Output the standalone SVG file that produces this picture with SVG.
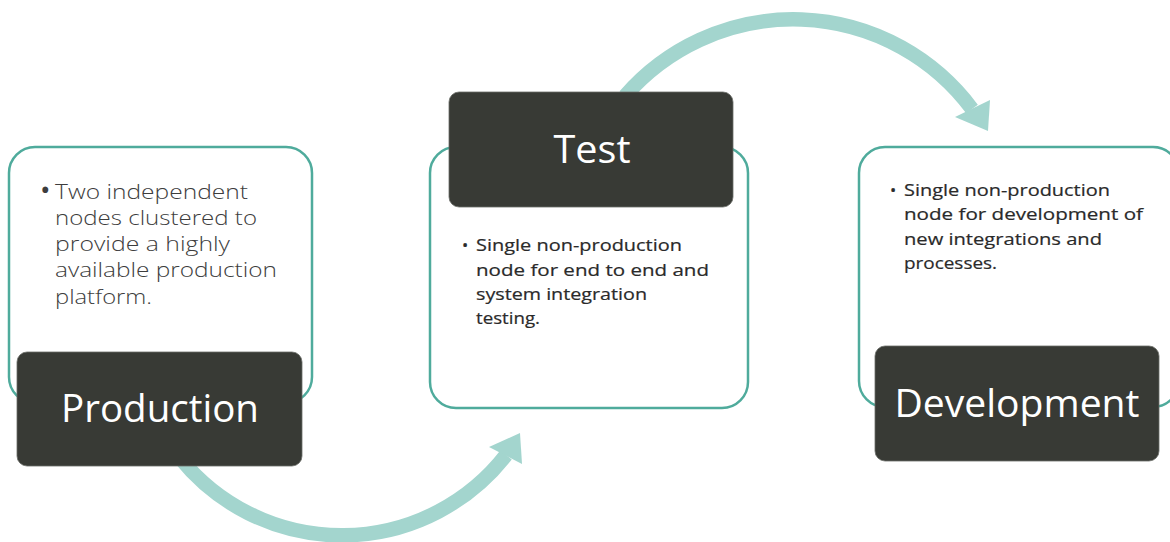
<svg xmlns="http://www.w3.org/2000/svg" width="1170" height="542" viewBox="0 0 1170 542">
<style>
.outline{fill:#ffffff;stroke:#4FAB9C;stroke-width:2.5}
.head{fill:#383A35;stroke:#6b6d68;stroke-width:0.8}
.htxt{font-family:"Open Sans","Liberation Sans",sans-serif;font-size:38px;fill:#ffffff;text-anchor:middle}
.ptxt{font-family:"Open Sans","Liberation Sans",sans-serif;font-weight:300;font-size:21px;fill:#3d3d3d}
.pbul{font-family:"Open Sans","Liberation Sans",sans-serif;font-size:28px;fill:#3d3d3d}
.btxt{font-family:"Open Sans","Liberation Sans",sans-serif;font-size:16.5px;fill:#2a2a2a;stroke:#2a2a2a;stroke-width:0.2}
.arc{fill:none;stroke:#A3D5CE;stroke-width:14.5}
.tip{fill:#A3D5CE}
</style>
<rect width="1170" height="542" fill="#ffffff"/>
<g id="outlines">
<rect class="outline" x="9" y="147" width="303" height="256" rx="26"/>
<rect class="outline" x="430" y="147" width="318" height="261" rx="26"/>
<rect class="outline" x="859" y="147" width="320" height="260" rx="26"/>
</g>
<g id="connectors">
<path class="arc" d="M 180 458 A 208 208 0 0 0 506 455"/>
<polygon class="tip" points="520,433 489,447 522,464"/>
<path class="arc" d="M 625 96 A 223 223 0 0 1 972 109"/>
<polygon class="tip" points="988,131 955,117 990,100"/>
</g>
<g id="production">
<rect class="head" x="17" y="352" width="285" height="114" rx="10"/>
<text class="htxt" x="160" y="422" textLength="198" lengthAdjust="spacingAndGlyphs">Production</text>
<text class="pbul" x="40" y="200">•</text>
<text class="ptxt" x="55" y="199" textLength="193" lengthAdjust="spacingAndGlyphs">Two independent</text>
<text class="ptxt" x="55" y="225" textLength="202" lengthAdjust="spacingAndGlyphs">nodes clustered to</text>
<text class="ptxt" x="55" y="251" textLength="175" lengthAdjust="spacingAndGlyphs">provide a highly</text>
<text class="ptxt" x="55" y="277" textLength="222" lengthAdjust="spacingAndGlyphs">available production</text>
<text class="ptxt" x="55" y="304" textLength="97" lengthAdjust="spacingAndGlyphs">platform.</text>
</g>
<g id="test">
<rect class="head" x="449" y="92" width="284" height="115" rx="10"/>
<text class="htxt" x="592" y="163" textLength="77" lengthAdjust="spacingAndGlyphs">Test</text>
<text class="btxt" x="462" y="251">•</text>
<text class="btxt" x="476" y="251" textLength="206" lengthAdjust="spacingAndGlyphs">Single non-production</text>
<text class="btxt" x="476" y="276" textLength="233" lengthAdjust="spacingAndGlyphs">node for end to end and</text>
<text class="btxt" x="476" y="300" textLength="171" lengthAdjust="spacingAndGlyphs">system integration</text>
<text class="btxt" x="476" y="324" textLength="64" lengthAdjust="spacingAndGlyphs">testing.</text>
</g>
<g id="development">
<rect class="head" x="875" y="346" width="284" height="115" rx="10"/>
<text class="htxt" x="1017" y="417" textLength="245" lengthAdjust="spacingAndGlyphs">Development</text>
<text class="btxt" x="890" y="196">•</text>
<text class="btxt" x="904" y="196" textLength="206" lengthAdjust="spacingAndGlyphs">Single non-production</text>
<text class="btxt" x="904" y="220" textLength="239" lengthAdjust="spacingAndGlyphs">node for development of</text>
<text class="btxt" x="904" y="245" textLength="198" lengthAdjust="spacingAndGlyphs">new integrations and</text>
<text class="btxt" x="904" y="269" textLength="93" lengthAdjust="spacingAndGlyphs">processes.</text>
</g>
</svg>
